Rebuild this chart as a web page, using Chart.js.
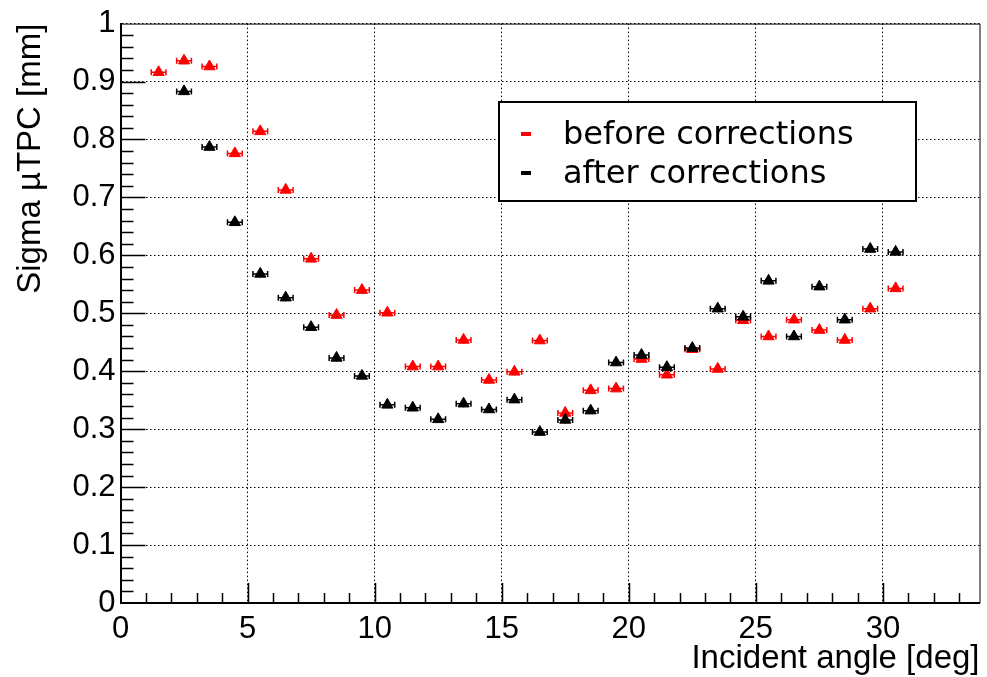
<!DOCTYPE html>
<html>
<head>
<meta charset="utf-8">
<script src="https://cdn.jsdelivr.net/npm/chart.js@4.4.0/dist/chart.umd.min.js"></script>
<style>
  html, body { margin: 0; padding: 0; background: #fff; }
  #wrap { width: 987px; height: 677px; position: relative; }
</style>
</head>
<body>
<div id="wrap"><canvas id="sigmaChart"></canvas></div>
<script>
// incident angle bin centres [deg]
const angles = [1.5, 2.5, 3.5, 4.5, 5.5, 6.5, 7.5, 8.5, 9.5, 10.5,
                11.5, 12.5, 13.5, 14.5, 15.5, 16.5, 17.5, 18.5, 19.5, 20.5,
                21.5, 22.5, 23.5, 24.5, 25.5, 26.5, 27.5, 28.5, 29.5, 30.5];
// sigma uTPC [mm]
const sigmaBefore = [0.916, 0.936, 0.926, 0.776, 0.814, 0.713, 0.594, 0.497, 0.540, 0.501,
                     0.408, 0.408, 0.454, 0.385, 0.399, 0.453, 0.328, 0.367, 0.370, 0.421,
                     0.394, 0.438, 0.404, 0.488, 0.460, 0.489, 0.471, 0.454, 0.508, 0.543];
const sigmaAfter = [null, 0.883, 0.787, 0.657, 0.568, 0.527, 0.476, 0.423, 0.392, 0.342,
                    0.337, 0.317, 0.344, 0.334, 0.351, 0.295, 0.316, 0.332, 0.415, 0.428,
                    0.407, 0.440, 0.508, 0.494, 0.556, 0.460, 0.546, 0.489, 0.611, 0.606];
const angleErr = 0.29;
const sigmaErr = 0.006;

const xTickValues = [0, 5, 10, 15, 20, 25, 30];
const yTickValues = [0, 0.1, 0.2, 0.3, 0.4, 0.5, 0.6, 0.7, 0.8, 0.9, 1];
const xMax = 33.8;

const toPoints = (ys) => angles.map((a, i) => ({ x: a, y: ys[i] }));

// horizontal (and tiny vertical) error bars under each marker
const errorBars = {
  id: 'errorBars',
  beforeDatasetDraw(chart, args) {
    const { ctx, scales: { x, y } } = chart;
    const ds = chart.data.datasets[args.index];
    ctx.save();
    ctx.strokeStyle = ds.borderColor;
    ctx.lineWidth = 1.5;
    ds.data.forEach(p => {
      if (p.y == null) return;
      const xl = x.getPixelForValue(p.x - angleErr);
      const xr = x.getPixelForValue(p.x + angleErr);
      const xc = x.getPixelForValue(p.x);
      const yc = y.getPixelForValue(p.y);
      ctx.beginPath();
      ctx.moveTo(xl, yc); ctx.lineTo(xr, yc);
      ctx.moveTo(xl, yc - 3); ctx.lineTo(xl, yc + 3);
      ctx.moveTo(xr, yc - 3); ctx.lineTo(xr, yc + 3);
      ctx.moveTo(xc, y.getPixelForValue(p.y + sigmaErr));
      ctx.lineTo(xc, y.getPixelForValue(p.y - sigmaErr));
      ctx.stroke();
    });
    ctx.restore();
  }
};

// frame on top/right plus inward major and minor ticks
const frameTicks = {
  id: 'frameTicks',
  afterDraw(chart) {
    const { ctx, chartArea: a, scales: { x, y } } = chart;
    ctx.save();
    ctx.strokeStyle = '#000';
    ctx.lineWidth = 1;
    ctx.beginPath();
    ctx.moveTo(a.left, a.top + 0.5); ctx.lineTo(a.right + 0.5, a.top + 0.5);
    ctx.lineTo(a.right + 0.5, a.bottom);
    ctx.stroke();

    ctx.lineWidth = 1.5;
    ctx.beginPath();
    for (let v = 1; v < xMax; v += 1) {
      const px = Math.round(x.getPixelForValue(v)) + 0.5;
      const len = v % 5 === 0 ? 20 : 10;
      ctx.moveTo(px, a.bottom); ctx.lineTo(px, a.bottom - len);
    }
    for (let k = 1; k < 50; k++) {
      const py = Math.round(y.getPixelForValue(k * 0.02)) + 0.5;
      const len = k % 5 === 0 ? 25 : 13;
      ctx.moveTo(a.left, py); ctx.lineTo(a.left + len, py);
    }
    ctx.stroke();
    ctx.restore();
  }
};

const legendBox = {
  id: 'legendBox',
  afterDraw(chart) {
    const ctx = chart.ctx;
    ctx.save();
    ctx.fillStyle = '#fff';
    ctx.fillRect(499, 102, 417, 99);
    ctx.lineWidth = 2;
    ctx.strokeStyle = '#000';
    ctx.strokeRect(499, 102, 417, 99);
    ctx.font = '32px "DejaVu Sans"';
    ctx.textBaseline = 'alphabetic';
    chart.data.datasets.forEach((ds, i) => {
      const base = 144 + i * 39;
      ctx.fillStyle = ds.borderColor;
      ctx.fillRect(521, base - 12, 10, 4);
      ctx.fillStyle = '#000';
      ctx.fillText(ds.label, 563, base);
    });
    ctx.restore();
  }
};

const tickFont = { family: '"Liberation Sans", Arial, sans-serif', size: 31 };
const titleFont = { family: '"Liberation Sans", Arial, sans-serif', size: 33 };

new Chart(document.getElementById('sigmaChart'), {
  type: 'scatter',
  data: {
    datasets: [
      {
        label: 'before corrections',
        data: toPoints(sigmaBefore),
        borderColor: '#ff0000',
        backgroundColor: '#ff0000',
        order: 1
      },
      {
        label: 'after corrections',
        data: toPoints(sigmaAfter),
        borderColor: '#000000',
        backgroundColor: '#000000',
        order: 0
      }
    ]
  },
  options: {
    responsive: true,
    maintainAspectRatio: false,
    animation: false,
    layout: { padding: { top: 22, right: 1, left: 0, bottom: 0 } },
    elements: {
      point: { pointStyle: 'triangle', radius: 6.5, borderWidth: 1, hoverRadius: 6.5 }
    },
    plugins: {
      legend: { display: false },
      tooltip: { enabled: false }
    },
    scales: {
      x: {
        type: 'linear',
        min: 0,
        max: xMax,
        afterBuildTicks: s => { s.ticks = xTickValues.map(v => ({ value: v })); },
        afterFit: s => { s.height = 74; },
        grid: { color: '#000', lineWidth: 1, drawTicks: false },
        border: { display: true, color: '#000', width: 2, dash: [1.5, 2.5] },
        ticks: { font: tickFont, color: '#000', padding: 8, maxRotation: 0, autoSkip: false },
        title: {
          display: true, text: 'Incident angle [deg]', align: 'end',
          color: '#000', font: titleFont, padding: { top: 0, bottom: -2 }
        }
      },
      y: {
        type: 'linear',
        min: 0,
        max: 1,
        afterBuildTicks: s => { s.ticks = yTickValues.map(v => ({ value: v })); },
        afterFit: s => { s.width = 120.5; },
        grid: { color: '#000', lineWidth: 1, drawTicks: false },
        border: { display: true, color: '#000', width: 2, dash: [1.5, 2.5] },
        ticks: {
          font: tickFont, color: '#000', padding: 5, autoSkip: false,
          callback: v => String(+v.toFixed(2))
        },
        title: {
          display: true, text: 'Sigma \u00b5TPC [mm]', align: 'end',
          color: '#000', font: titleFont, padding: { top: 11, bottom: 0 }
        }
      }
    }
  },
  plugins: [errorBars, frameTicks, legendBox]
});
</script>
</body>
</html>
